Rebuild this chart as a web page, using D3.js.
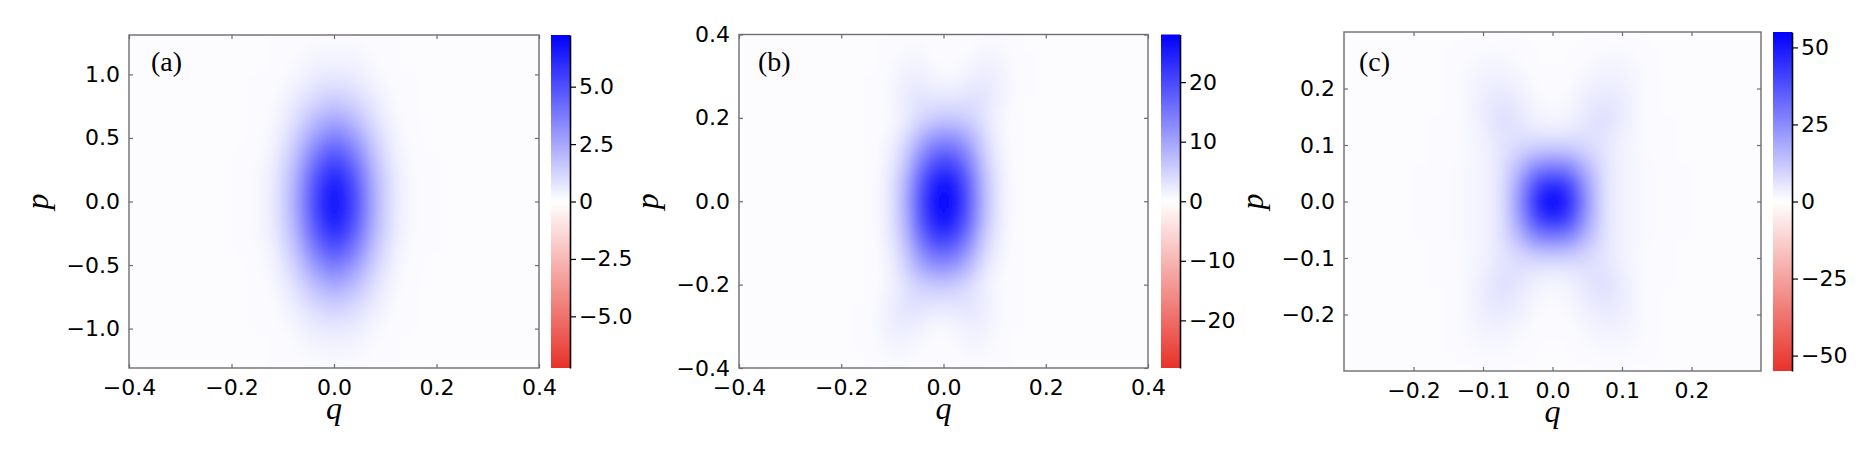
<!DOCTYPE html>
<html>
<head>
<meta charset="utf-8">
<script src="https://cdn.jsdelivr.net/npm/d3@7"></script>
<style>body{margin:0;background:#fff}</style>
</head>
<body>
<script>
// ---- data ----
// panel (a): grid of W(q,p); rows top (p high) to bottom
const qA = [-0.2,-0.16,-0.12,-0.08,-0.04,0,0.04,0.08,0.12,0.16,0.2];
const pA = [1.4,1.2,1.0,0.8,0.6,0.4,0.2,0,-0.2,-0.4,-0.6,-0.8,-1.0,-1.2,-1.4];
const wA = [
  [0,0,0,0,0,0.1,0,0,0,0,0],
  [0,0,0,0.1,0.2,0.2,0.2,0.1,0,0,0],
  [0,0,0,0.2,0.5,0.6,0.5,0.2,0,0,0],
  [0,0,0.1,0.5,1.1,1.5,1.1,0.5,0.1,0,0],
  [0,0,0.2,0.9,2.2,3.0,2.2,0.9,0.2,0,0],
  [0,0,0.3,1.5,3.6,4.9,3.6,1.5,0.3,0,0],
  [0,0.1,0.5,2.0,4.9,6.5,4.9,2.0,0.5,0.1,0],
  [0,0.1,0.5,2.2,5.4,7.2,5.4,2.2,0.5,0.1,0],
  [0,0.1,0.5,2.0,4.9,6.5,4.9,2.0,0.5,0.1,0],
  [0,0,0.3,1.5,3.6,4.9,3.6,1.5,0.3,0,0],
  [0,0,0.2,0.9,2.2,3.0,2.2,0.9,0.2,0,0],
  [0,0,0.1,0.5,1.1,1.5,1.1,0.5,0.1,0,0],
  [0,0,0,0.2,0.5,0.6,0.5,0.2,0,0,0],
  [0,0,0,0.1,0.2,0.2,0.2,0.1,0,0,0],
  [0,0,0,0,0,0.1,0,0,0,0,0]
];

// panel (b)
const qB = [-0.2,-0.175,-0.15,-0.125,-0.1,-0.075,-0.05,-0.025,0,0.025,0.05,0.075,0.1,0.125,0.15,0.175,0.2];
const pB = [0.4,0.35,0.3,0.25,0.2,0.15,0.1,0.05,0,-0.05,-0.1,-0.15,-0.2,-0.25,-0.3,-0.35,-0.4];
const wB = [
  [0,0,0,0.1,0.2,0.4,0.4,0.3,0.2,0.2,0.3,0.4,0.5,0.4,0.2,0.1,0],
  [0,0,0.1,0.2,0.5,0.9,1.0,0.6,0.3,0.4,0.7,1.1,1.1,0.7,0.3,0.1,0],
  [0,0,0.1,0.3,0.9,1.6,1.8,1.2,0.8,0.9,1.5,2.1,1.9,1.0,0.4,0.1,0],
  [0,0,0.1,0.4,1.1,2.2,3.0,2.8,2.6,2.8,3.3,3.1,2.1,1.0,0.3,0.1,0],
  [0,0,0.1,0.3,0.8,2.0,3.8,5.3,6.0,5.8,4.9,3.2,1.5,0.5,0.2,0.1,0],
  [0,0,0.1,0.5,1.5,4.0,8.0,11.5,13,12.2,9.2,5.0,2.0,0.6,0.2,0.1,0],
  [0,0.1,0.2,0.7,2.4,6.2,12.5,17.6,20,18.2,13.4,6.8,2.7,0.8,0.2,0.1,0],
  [0,0.1,0.3,0.9,3.3,8.2,16.5,23,26,23.3,16.9,8.5,3.4,0.9,0.3,0.1,0],
  [0,0.1,0.3,1.0,3.5,9.0,17.9,24.9,28,24.9,17.9,9.0,3.5,1.0,0.3,0.1,0],
  [0,0.1,0.3,0.9,3.4,8.5,16.9,23.3,26,23,16.5,8.2,3.3,0.9,0.3,0.1,0],
  [0,0.1,0.2,0.8,2.7,6.8,13.4,18.2,20,17.6,12.5,6.2,2.4,0.7,0.2,0.1,0],
  [0,0.1,0.2,0.6,2.0,5.0,9.2,12.2,13,11.5,8.0,4.0,1.5,0.5,0.1,0,0],
  [0,0.1,0.2,0.5,1.5,3.2,4.9,5.8,6.0,5.3,3.8,2.0,0.8,0.3,0.1,0,0],
  [0,0.1,0.3,1.0,2.1,3.1,3.3,2.8,2.6,2.8,3.0,2.2,1.1,0.4,0.1,0,0],
  [0,0.1,0.4,1.0,1.9,2.1,1.5,0.9,0.8,1.2,1.8,1.6,0.9,0.3,0.1,0,0],
  [0,0.1,0.3,0.7,1.1,1.1,0.7,0.4,0.3,0.6,1.0,0.9,0.5,0.2,0.1,0,0],
  [0,0.1,0.2,0.4,0.5,0.4,0.3,0.2,0.2,0.3,0.4,0.4,0.2,0.1,0,0,0]
];

// panel (c)
const qC = [-0.2,-0.175,-0.15,-0.125,-0.1,-0.075,-0.05,-0.025,0,0.025,0.05,0.075,0.1,0.125,0.15,0.175,0.2];
const pC = [0.27,0.24,0.21,0.18,0.15,0.12,0.09,0.06,0.03,0,-0.03,-0.06,-0.09,-0.12,-0.15,-0.18,-0.21,-0.24,-0.27];
const wC = [
  [0.1,0.2,0.4,0.9,1.3,1.2,0.9,0.5,0.3,0.5,0.9,1.2,1.3,0.9,0.4,0.2,0.1],
  [0.1,0.3,0.5,1.2,2.1,2.1,1.5,0.7,0.5,0.7,1.5,2.1,2.1,1.2,0.5,0.3,0.1],
  [0.2,0.3,0.6,1.6,3.2,3.6,2.5,1.1,0.7,1.1,2.5,3.6,3.2,1.6,0.6,0.3,0.2],
  [0.2,0.4,0.6,1.6,4,5.5,4,1.7,1.1,1.7,4,5.5,4,1.6,0.6,0.4,0.2],
  [0.3,0.4,0.7,1.5,4,7,5.5,2.6,1.8,2.6,5.5,7,4,1.5,0.7,0.4,0.3],
  [0.3,0.5,0.8,1.4,3.2,6,6.5,5.5,5,5.5,6.5,6,3.2,1.4,0.8,0.5,0.3],
  [0.4,0.6,0.9,1.4,2.6,5.5,9,13,14,13,9,5.5,2.6,1.4,0.9,0.6,0.4],
  [0.4,0.7,1,1.5,2.6,6,15,27,30,27,15,6,2.6,1.5,1,0.7,0.4],
  [0.5,0.8,1.1,1.6,2.6,6,20,40,47,40,20,6,2.6,1.6,1.1,0.8,0.5],
  [0.5,0.8,1.1,1.6,2.6,6,22,46,55,46,22,6,2.6,1.6,1.1,0.8,0.5],
  [0.5,0.8,1.1,1.6,2.6,6,20,40,47,40,20,6,2.6,1.6,1.1,0.8,0.5],
  [0.4,0.7,1,1.5,2.6,6,15,27,30,27,15,6,2.6,1.5,1,0.7,0.4],
  [0.4,0.6,0.9,1.4,2.6,5.5,9,13,14,13,9,5.5,2.6,1.4,0.9,0.6,0.4],
  [0.3,0.5,0.8,1.4,3.2,6,6.5,5.5,5,5.5,6.5,6,3.2,1.4,0.8,0.5,0.3],
  [0.3,0.4,0.7,1.5,4,7,5.5,2.6,1.8,2.6,5.5,7,4,1.5,0.7,0.4,0.3],
  [0.2,0.4,0.6,1.6,4,5.5,4,1.7,1.1,1.7,4,5.5,4,1.6,0.6,0.4,0.2],
  [0.2,0.3,0.6,1.6,3.2,3.6,2.5,1.1,0.7,1.1,2.5,3.6,3.2,1.6,0.6,0.3,0.2],
  [0.1,0.3,0.5,1.2,2.1,2.1,1.5,0.7,0.5,0.7,1.5,2.1,2.1,1.2,0.5,0.3,0.1],
  [0.1,0.2,0.4,0.9,1.3,1.2,0.9,0.5,0.3,0.5,0.9,1.2,1.3,0.9,0.4,0.2,0.1]
];

// ticks
const qTicksAB = [-0.4,-0.2,0,0.2,0.4];
const qTicksC = [-0.2,-0.1,0,0.1,0.2];
const pTicksA = [-1.0,-0.5,0,0.5,1.0];
const pTicksB = [-0.4,-0.2,0,0.2,0.4];
const pTicksC = [-0.2,-0.1,0,0.1,0.2];
const cTicksA = [-5,-2.5,0,2.5,5];
const cTicksB = [-20,-10,0,10,20];
const cTicksC = [-50,-25,0,25,50];
const vmaxes = [7.25, 28, 55];

// ---- drawing ----
const width = 1874, height = 456;
const svg = d3.select("body").append("svg")
    .attr("width", width)
    .attr("height", height)
    .style("background", "#fff");
const defs = svg.append("defs");

const cRed = "#e8322a", cWhite = "#ffffff", cBlue = "#0000ff";
const fmt1 = d3.format(".1f");
const fmtC = v => v === 0 ? "0" : (Number.isInteger(v) && Math.abs(v) >= 10 ? d3.format("d")(v) : fmt1(v));

const panels = [
  {tag:"(a)", left:129, right:539, top:35, bottom:368, qDom:[-0.4,0.4], pDom:[-1.31,1.31],
   qTicks:qTicksAB, pTicks:pTicksA, q:qA, p:pA, w:wA, vmax:vmaxes[0], cb:[551,570], cTicks:cTicksA, tagX:151, blur:"7 9"},
  {tag:"(b)", left:739, right:1148, top:34.5, bottom:368, qDom:[-0.4,0.4], pDom:[-0.4,0.4],
   qTicks:qTicksAB, pTicks:pTicksB, q:qB, p:pB, w:wB, vmax:vmaxes[1], cb:[1161,1180], cTicks:cTicksB, tagX:758, blur:"4.5 7"},
  {tag:"(c)", left:1344, right:1761, top:32, bottom:371, qDom:[-0.3,0.3], pDom:[-0.3,0.3],
   qTicks:qTicksC, pTicks:pTicksC, q:qC, p:pC, w:wC, vmax:vmaxes[2], cb:[1773,1792], cTicks:cTicksC, tagX:1359, blur:"6 6"}
];

const frameColor = "#6e6e6e";
const tickFont = "'DejaVu Sans', sans-serif";

panels.forEach((P, k) => {
  const x = d3.scaleLinear().domain(P.qDom).range([P.left, P.right]);
  const y = d3.scaleLinear().domain(P.pDom).range([P.bottom, P.top]);
  const color = d3.scaleLinear().domain([-P.vmax, 0, P.vmax]).range([cRed, cWhite, cBlue]).clamp(true);
  // faint tint of the near-zero background
  const floor = 0.012 * P.vmax;

  defs.append("clipPath").attr("id", "clip" + k)
    .append("rect").attr("x", P.left).attr("y", P.top)
    .attr("width", P.right - P.left).attr("height", P.bottom - P.top);
  defs.append("filter").attr("id", "soft" + k)
    .attr("x", "-10%").attr("y", "-10%").attr("width", "120%").attr("height", "120%")
    .append("feGaussianBlur").attr("stdDeviation", P.blur);

  const g = svg.append("g");
  g.append("rect")
    .attr("x", P.left).attr("y", P.top)
    .attr("width", P.right - P.left).attr("height", P.bottom - P.top)
    .attr("fill", color(floor));

  // heatmap cells -> small canvas -> smoothed image
  const nx = P.q.length, ny = P.p.length;
  const canvas = document.createElement("canvas");
  canvas.width = nx; canvas.height = ny;
  const ctx = canvas.getContext("2d");
  const img = ctx.createImageData(nx, ny);
  P.w.forEach((row, j) => row.forEach((v, i) => {
    const c = d3.rgb(color(Math.max(v, floor)));
    const o = (j * nx + i) * 4;
    img.data[o] = c.r; img.data[o+1] = c.g; img.data[o+2] = c.b; img.data[o+3] = 255;
  }));
  ctx.putImageData(img, 0, 0);
  const dq = P.q[1] - P.q[0], dp = P.p[0] - P.p[1];
  const x0 = x(P.q[0] - dq/2), x1 = x(P.q[nx-1] + dq/2);
  const y0 = y(P.p[0] + dp/2), y1 = y(P.p[ny-1] - dp/2);
  g.append("g").attr("clip-path", "url(#clip" + k + ")")
    .append("image")
    .attr("href", canvas.toDataURL())
    .attr("x", x0).attr("y", y0)
    .attr("width", x1 - x0).attr("height", y1 - y0)
    .attr("preserveAspectRatio", "none")
    .style("image-rendering", "auto")
    .attr("filter", "url(#soft" + k + ")");

  // frame
  g.append("rect")
    .attr("x", P.left).attr("y", P.top)
    .attr("width", P.right - P.left).attr("height", P.bottom - P.top)
    .attr("fill", "none").attr("stroke", frameColor).attr("stroke-width", 1.4);

  // axes
  const styleAxis = sel => {
    sel.select(".domain").remove();
    sel.attr("font-family", tickFont).attr("font-size", 22);
    sel.selectAll("line").attr("stroke", frameColor).attr("stroke-width", 1.2);
    sel.selectAll("text").attr("fill", "#000");
  };
  g.append("g").attr("transform", `translate(0,${P.bottom})`)
    .call(d3.axisBottom(x).tickValues(P.qTicks).tickFormat(fmt1).tickSizeInner(-4).tickSizeOuter(0).tickPadding(11))
    .call(styleAxis);
  g.append("g").attr("transform", `translate(0,${P.top})`)
    .call(d3.axisTop(x).tickValues(P.qTicks).tickFormat("").tickSizeInner(-4).tickSizeOuter(0))
    .call(styleAxis);
  g.append("g").attr("transform", `translate(${P.left},0)`)
    .call(d3.axisLeft(y).tickValues(P.pTicks).tickFormat(fmt1).tickSizeInner(-4).tickSizeOuter(0).tickPadding(9))
    .call(styleAxis);
  g.append("g").attr("transform", `translate(${P.right},0)`)
    .call(d3.axisRight(y).tickValues(P.pTicks).tickFormat("").tickSizeInner(-4).tickSizeOuter(0))
    .call(styleAxis);

  // axis labels
  g.append("text")
    .attr("x", (P.left + P.right) / 2).attr("y", P.bottom + 51)
    .attr("text-anchor", "middle")
    .attr("font-family", "'Liberation Serif', serif").attr("font-style", "italic").attr("font-size", 32)
    .text("q");
  g.append("text")
    .attr("transform", `translate(${P.left - 81},${(P.top + P.bottom) / 2}) rotate(-90)`)
    .attr("text-anchor", "middle")
    .attr("font-family", "'Liberation Serif', serif").attr("font-style", "italic").attr("font-size", 32)
    .text("p");
  g.append("text")
    .attr("x", P.tagX).attr("y", 71)
    .attr("font-family", "'Liberation Serif', serif").attr("font-size", 28)
    .text(P.tag);

  // colorbar
  const gid = "grad" + k;
  const grad = defs.append("linearGradient").attr("id", gid)
    .attr("x1", 0).attr("y1", 1).attr("x2", 0).attr("y2", 0);
  grad.append("stop").attr("offset", "0%").attr("stop-color", cRed);
  grad.append("stop").attr("offset", "50%").attr("stop-color", cWhite);
  grad.append("stop").attr("offset", "100%").attr("stop-color", cBlue);
  const cy = d3.scaleLinear().domain([-P.vmax, P.vmax]).range([P.bottom, P.top]);
  g.append("rect")
    .attr("x", P.cb[0]).attr("y", P.top)
    .attr("width", P.cb[1] - P.cb[0]).attr("height", P.bottom - P.top)
    .attr("fill", `url(#${gid})`);
  const cax = g.append("g").attr("transform", `translate(${P.cb[1]},0)`)
    .call(d3.axisRight(cy).tickValues(P.cTicks).tickFormat(fmtC).tickSize(6).tickSizeOuter(0).tickPadding(3));
  cax.attr("font-family", tickFont).attr("font-size", 22);
  cax.select(".domain").attr("stroke", "#000").attr("stroke-width", 1.6);
  cax.selectAll("line").attr("stroke", "#000").attr("stroke-width", 1.2);
  cax.selectAll("text").attr("fill", "#000");
});
</script>
</body>
</html>
